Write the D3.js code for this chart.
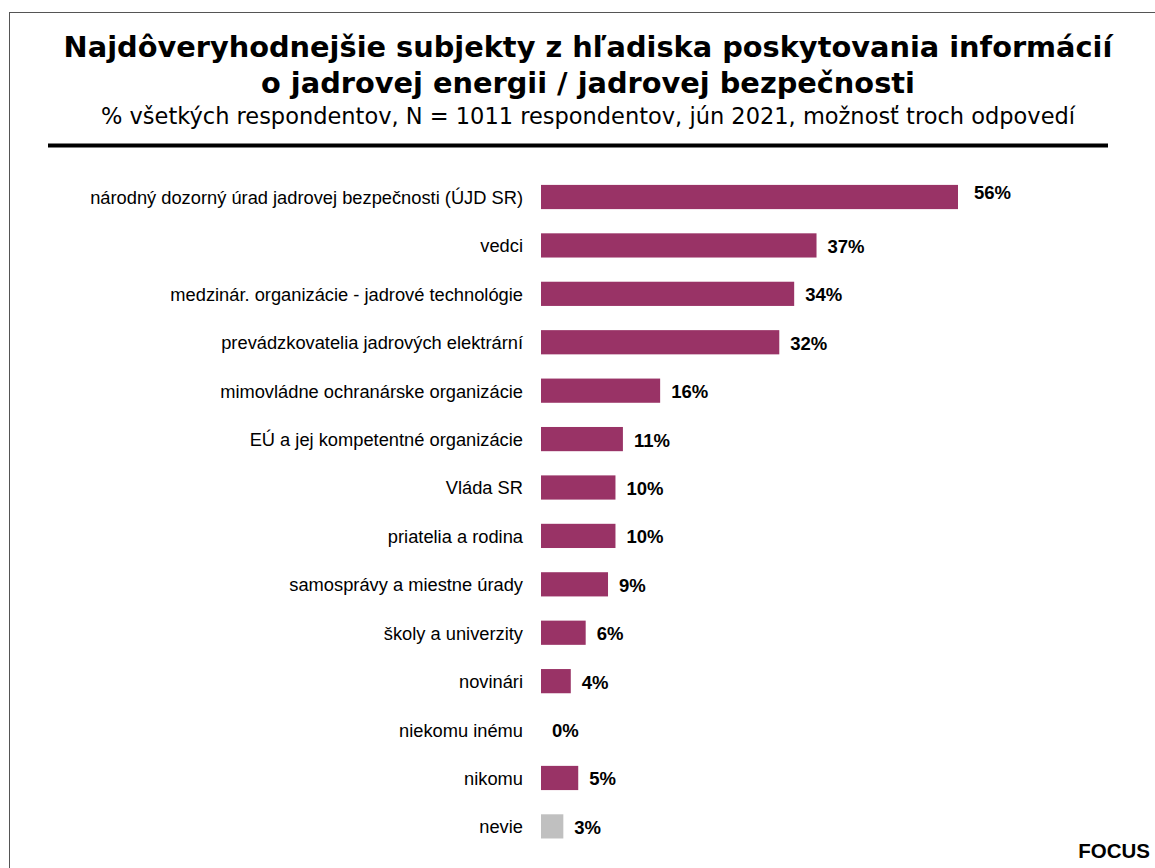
<!DOCTYPE html>
<html><head><meta charset="utf-8">
<script src="https://cdn.jsdelivr.net/npm/d3@7"></script>
<style>body{margin:0;background:#fff}svg{display:block}</style>
</head><body>
<script>
const categories = ["národný dozorný úrad jadrovej bezpečnosti (ÚJD SR)","vedci","medzinár. organizácie - jadrové technológie","prevádzkovatelia jadrových elektrární","mimovládne ochranárske organizácie","EÚ a jej kompetentné organizácie","Vláda SR","priatelia a rodina","samosprávy a miestne úrady","školy a univerzity","novinári","niekomu inému","nikomu","nevie"];
const values = [56,37,34,32,16,11,10,10,9,6,4,0,5,3];
const barColors = ["#993366","#993366","#993366","#993366","#993366","#993366","#993366","#993366","#993366","#993366","#993366","#993366","#993366","#c0c0c0"];
const titleLines = ["Najdôveryhodnejšie subjekty z hľadiska poskytovania informácií","o jadrovej energii / jadrovej bezpečnosti"];
const subtitle = "% všetkých respondentov, N = 1011 respondentov, jún 2021, možnosť troch odpovedí";
const source = "FOCUS";

const W=1155,H=868;
const svg=d3.select("body").append("svg").attr("width",W).attr("height",H);
svg.append("rect").attr("x",9.5).attr("y",12.5).attr("width",W).attr("height",H).attr("fill","none").attr("stroke","#555").attr("stroke-width",1);

svg.selectAll("text.title").data(titleLines).enter().append("text")
 .attr("x",588).attr("y",(d,i)=>57+i*35.5).attr("text-anchor","middle")
 .attr("font-family","DejaVu Sans").attr("font-weight","bold").attr("font-size",28.8).attr("fill","#000").text(d=>d);
svg.append("text").attr("x",588).attr("y",124).attr("text-anchor","middle")
 .attr("font-family","DejaVu Sans").attr("font-size",22.5).attr("fill","#000").text(subtitle);
svg.append("line").attr("x1",48).attr("x2",1108).attr("y1",145.5).attr("y2",145.5).attr("stroke","#000").attr("stroke-width",4);

const x=d3.scaleLinear().domain([0,56]).range([541,958]);
const y=d3.scaleBand().domain(categories).range([172.8,850.6]).paddingInner(0.5).paddingOuter(0.25);

svg.selectAll("rect.bar").data(values).enter().append("rect")
 .attr("x",x(0)).attr("y",(d,i)=>y(categories[i])).attr("width",d=>x(d)-x(0)).attr("height",y.bandwidth())
 .attr("fill",(d,i)=>barColors[i]);
svg.selectAll("text.cat").data(categories).enter().append("text")
 .attr("x",523).attr("y",d=>y(d)+y.bandwidth()/2+7).attr("text-anchor","end")
 .attr("font-family","Liberation Sans").attr("font-size",18.3).attr("fill","#000").text(d=>d);
svg.selectAll("text.val").data(values).enter().append("text")
 .attr("x",(d,i)=>x(d)+(i===0?16:11)).attr("y",(d,i)=>y(categories[i])+y.bandwidth()/2+(i===0?2:7.5))
 .attr("font-family","Liberation Sans").attr("font-weight","bold").attr("font-size",18.5).attr("fill","#000").text(d=>d+"%");
svg.append("text").attr("x",1150).attr("y",858).attr("text-anchor","end")
 .attr("font-family","Liberation Sans").attr("font-weight","bold").attr("font-size",20.5).attr("fill","#000").text(source);
</script>
</body></html>
